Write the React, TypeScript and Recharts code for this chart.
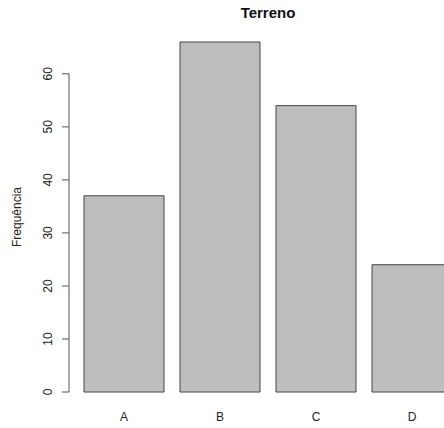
import { BarChart, Bar, XAxis, YAxis } from 'recharts'

const categories = ['A', 'B', 'C', 'D']
const frequencies = [37, 66, 54, 24]
const yTicks = [0, 10, 20, 30, 40, 50, 60]

const data = categories.map((categoria, i) => ({ categoria, frequencia: frequencies[i] }))

// R-style axis extension: 4% on each side of [0, max]
const Y_MIN = -0.04 * 66
const Y_MAX = 66 * 1.04

const CHART_W = 467
const CHART_H = 428
const MARGIN_TOP = 28
const X_AXIS_H = 22
const PLOT_H = CHART_H - MARGIN_TOP - X_AXIS_H
const PX_PER_UNIT = PLOT_H / (Y_MAX - Y_MIN)

const FONT = '"Liberation Sans", Arial, Helvetica, sans-serif'
const AXIS_COLOR = '#555'
const TEXT_COLOR = '#222'

function YTick(props: any) {
  const { x, y, payload } = props
  const value = payload.value as number
  const top = yTicks[yTicks.length - 1]
  return (
    <g>
      <line x1={x - 7} y1={y} x2={x} y2={y} stroke={AXIS_COLOR} strokeWidth={1} />
      {value === top && (
        <line x1={x} y1={y} x2={x} y2={y + top * PX_PER_UNIT} stroke={AXIS_COLOR} strokeWidth={1} />
      )}
      <text
        x={x - 17}
        y={y}
        transform={`rotate(-90, ${x - 17}, ${y})`}
        textAnchor="middle"
        fontFamily={FONT}
        fontSize={12}
        fill={TEXT_COLOR}
      >
        {value}
      </text>
    </g>
  )
}

function XTick(props: any) {
  const { x, y, payload } = props
  return (
    <text x={x} y={y + 15} textAnchor="middle" fontFamily={FONT} fontSize={12} fill={TEXT_COLOR}>
      {payload.value}
    </text>
  )
}

export default function App() {
  return (
    <div
      style={{
        position: 'absolute',
        left: 0,
        top: 0,
        width: 444,
        height: 428,
        overflow: 'hidden',
        background: '#fff',
      }}
    >
      <div
        style={{
          position: 'absolute',
          left: 69,
          width: 398,
          top: 4,
          textAlign: 'center',
          fontFamily: FONT,
          fontWeight: 'bold',
          fontSize: 15,
          color: '#111',
        }}
      >
        Terreno
      </div>
      <svg
        width={30}
        height={CHART_H}
        style={{ position: 'absolute', left: 0, top: 0 }}
      >
        <text
          x={21}
          y={MARGIN_TOP + PLOT_H / 2}
          transform={`rotate(-90, 21, ${MARGIN_TOP + PLOT_H / 2})`}
          textAnchor="middle"
          fontFamily={FONT}
          fontSize={12}
          fill={TEXT_COLOR}
        >
          Frequência
        </text>
      </svg>
      <div style={{ position: 'absolute', left: 0, top: 0 }}>
        <BarChart
          width={CHART_W}
          height={CHART_H}
          data={data}
          margin={{ top: MARGIN_TOP, right: 0, bottom: 0, left: 0 }}
        >
          <XAxis
            dataKey="categoria"
            height={X_AXIS_H}
            axisLine={false}
            tickLine={false}
            tickSize={0}
            tickMargin={0}
            padding={{ left: 7, right: 7 }}
            tick={(p: any) => <XTick {...p} />}
            interval={0}
          />
          <YAxis
            width={69}
            domain={[Y_MIN, Y_MAX]}
            ticks={yTicks}
            interval={0}
            axisLine={false}
            tickLine={false}
            tickSize={0}
            tickMargin={0}
            allowDataOverflow
            tick={(p: any) => <YTick {...p} />}
          />
          <Bar
            dataKey="frequencia"
            barSize={80}
            fill="#BEBEBE"
            stroke="#444"
            strokeWidth={1}
            isAnimationActive={false}
          />
        </BarChart>
      </div>
    </div>
  )
}
